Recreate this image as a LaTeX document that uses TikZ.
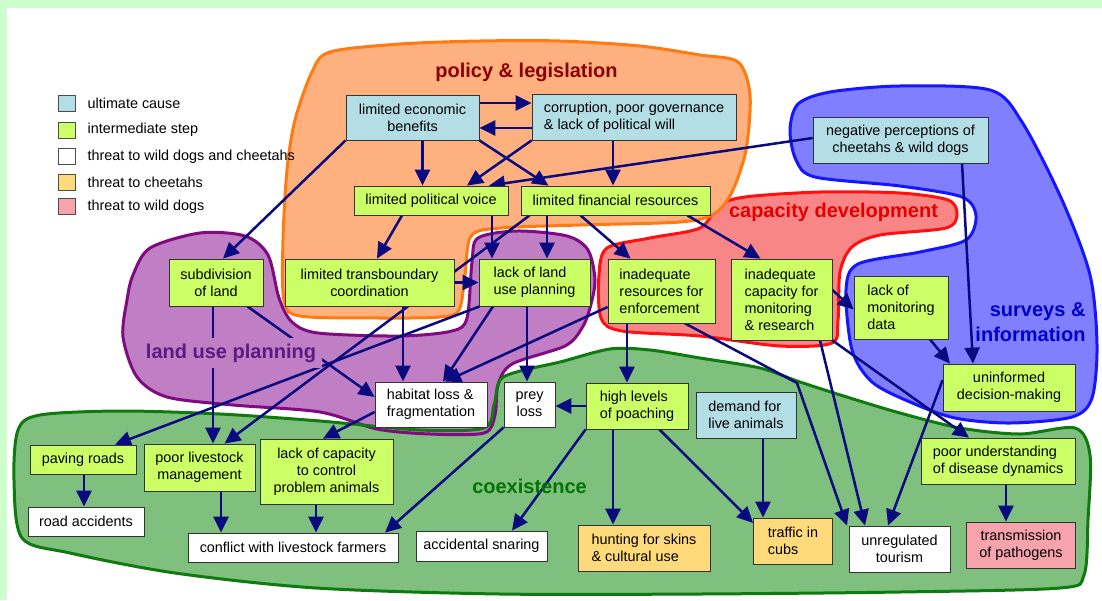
\documentclass[tikz,border=0pt]{standalone}
\usepackage{fontspec}
\setmainfont{Liberation Sans}
\usepackage{tikz}
\usetikzlibrary{arrows.meta,calc,positioning}

\pgfdeclarelayer{blobs}
\pgfdeclarelayer{links}
\pgfsetlayers{blobs,links,main}

\definecolor{framegreen}{HTML}{CCFFCC}
\definecolor{causeblue}{HTML}{B4DEE6}
\definecolor{midgreen}{HTML}{CCFF66}
\definecolor{cheetahyellow}{HTML}{FFDA7A}
\definecolor{dogpink}{HTML}{F7A3AE}
\definecolor{linknavy}{HTML}{0A0A80}
\definecolor{orangefill}{HTML}{FFB07F}
\definecolor{orangeline}{HTML}{FF7A10}
\definecolor{redfill}{HTML}{F98686}
\definecolor{redline}{HTML}{FF1010}
\definecolor{bluefill}{HTML}{7F7FFF}
\definecolor{blueline}{HTML}{1515FF}
\definecolor{purplefill}{HTML}{C07FC4}
\definecolor{purpleline}{HTML}{800A80}
\definecolor{greenfill}{HTML}{7FC07F}
\definecolor{greenline}{HTML}{0F7A0F}
\definecolor{landusetext}{HTML}{5B1A82}

\newcommand{\boxfont}{\fontsize{14.4}{17}\selectfont}
\newcommand{\zonefont}{\fontsize{20}{25}\selectfont\bfseries}

\begin{document}
\begin{tikzpicture}[x=1pt,y=-1pt,>={Triangle[length=16pt,width=15pt]},
    box/.style={draw=black!80, line width=0.8pt, font=\boxfont, align=center, inner xsep=6pt, inner ysep=4pt},
    cause/.style={box, fill=causeblue},
    midbox/.style={box, fill=midgreen},
    bothbox/.style={box, fill=white},
    cheetahbox/.style={box, fill=cheetahyellow},
    dogbox/.style={box, fill=dogpink},
    link/.style={->, draw=linknavy, line width=2.5pt},
    zone/.style={font=\zonefont},
    legbox/.style={draw=black!70, line width=0.8pt, minimum width=17pt, minimum height=16pt, inner sep=0pt},
    legtext/.style={font=\boxfont, inner sep=0pt, anchor=west}]
    \useasboundingbox (0,0) rectangle (1102,600);

    % zones
    \begin{pgfonlayer}{blobs}
        \fill[framegreen] (0,0) rectangle (1102,600);
        \fill[white] (7,8) rectangle (1102,600);
        \path[save path=\coexpath] plot[smooth cycle] coordinates {(18,430) (40,415) (120,411) (220,414) (320,421) (420,430) (484,428) (494,405) (500,380) (520,371) (560,362) (610,349) (650,350) (700,358) (760,368) (800,382) (850,398) (900,413) (960,428) (1020,434) (1075,428) (1090,455) (1088,520) (1084,575) (1060,588) (900,592) (700,594) (500,594) (316,588) (175,573) (70,553) (22,538) (14,480)};
        \fill[greenfill, use path=\coexpath];
        \draw[purpleline, fill=purplefill, line width=3pt] plot[smooth cycle] coordinates {(150,248) (200,233) (245,236) (268,255) (279,298) (292,322) (318,333) (400,336) (452,331) (467,318) (472,262) (478,238) (517,231) (567,236) (588,250) (595,280) (590,308) (582,328) (565,346) (512,364) (498,385) (495,415) (484,433) (430,434) (377,429) (320,412) (233,405) (167,397) (137,377) (123,337) (127,300) (133,275)};
        \draw[greenline, line width=3pt, use path=\coexpath];
        \draw[redline, fill=redfill, line width=3pt] plot[smooth cycle] coordinates {(718,206) (745,197) (820,192) (900,193) (948,200) (957,214) (946,228) (880,235) (852,247) (840,272) (838,320) (832,343) (780,346) (700,336) (622,331) (601,318) (599,275) (607,248) (650,238) (700,228)};
        \draw[orangeline, fill=orangefill, line width=3pt] plot[smooth cycle] coordinates {(312,72) (330,52) (400,44) (480,41) (560,41) (640,46) (700,55) (738,62) (750,95) (746,150) (732,192) (714,214) (680,222) (580,225) (500,228) (471,236) (465,275) (459,310) (440,317) (380,318) (300,316) (284,300) (283,240) (287,170) (295,120)};
        \draw[blueline, fill=bluefill, line width=3pt] plot[smooth cycle] coordinates {(790,130) (798,104) (830,92) (900,86) (990,90) (1022,122) (1062,200) (1090,275) (1097,345) (1092,398) (1072,417) (1010,423) (955,418) (910,402) (872,382) (852,350) (846,290) (858,264) (920,252) (966,240) (976,216) (962,197) (900,186) (815,177) (796,160)};
    \end{pgfonlayer}

    \node[zone, text=red!55!black] (policy) at (526.5,72) {policy \& legislation};
    \node[zone, text=red!90!black] (capdev) at (833.5,212) {capacity development};
    \node[zone, text=blue!80!black, align=right, anchor=east] (surveys) at (1089,322.5) {surveys \&\\information};
    \node[zone, text=landusetext, fill=purplefill, inner sep=6pt] (landuse) at (231,353) {land use planning};
    \node[zone, text=green!45!black] (coexist) at (529.5,486) {coexistence};

    % legend
    \node[legbox, fill=causeblue] (legcause) at (66.5,103) {};
    \node[legbox, fill=midgreen] (legmid) at (66.5,130) {};
    \node[legbox, fill=white] (legboth) at (66.5,156.5) {};
    \node[legbox, fill=cheetahyellow] (legcheetah) at (66.5,182.5) {};
    \node[legbox, fill=dogpink] (legdog) at (66.5,206.5) {};
    \node[legtext, right=12pt of legcause] {ultimate cause};
    \node[legtext, right=12pt of legmid] {intermediate step};
    \node[legtext, right=12pt of legboth] {threat to wild dogs and cheetahs};
    \node[legtext, right=12pt of legcheetah] {threat to cheetahs};
    \node[legtext, right=12pt of legdog] {threat to wild dogs};

    % boxes
    \node[cause, minimum width=133pt, minimum height=45pt] (econ) at (412.5,117.5) {limited economic\\benefits};
    \node[cause, align=left, minimum width=204pt, minimum height=46pt] (corrupt) at (634,117) {corruption, poor governance\\\& lack of political will};
    \node[cause, minimum width=175pt, minimum height=46pt] (negper) at (900.5,140) {negative perceptions of\\cheetahs \& wild dogs};
    \node[midbox, minimum width=154pt, minimum height=29pt] (voice) at (431,200.5) {limited political voice};
    \node[midbox, minimum width=189pt, minimum height=29pt] (finance) at (615.5,200.5) {limited financial resources};
    \node[midbox, minimum width=94pt, minimum height=47pt] (subdiv) at (216,282.5) {subdivision\\of land};
    \node[midbox, minimum width=169pt, minimum height=47pt] (transb) at (369.5,282.5) {limited transboundary\\coordination};
    \node[midbox, align=left, minimum width=111pt, minimum height=47pt] (landplan) at (534.5,282.5) {lack of land\\use planning};
    \node[midbox, align=left, minimum width=107pt, minimum height=64pt] (enforce) at (661.5,291) {inadequate\\resources for\\enforcement};
    \node[midbox, align=left, minimum width=101pt, minimum height=81pt] (capmon) at (781.5,299.5) {inadequate\\capacity for\\monitoring\\\& research};
    \node[midbox, align=left, minimum width=94pt, minimum height=63pt] (mondata) at (901,307.5) {lack of\\monitoring\\data};
    \node[midbox, minimum width=132pt, minimum height=47pt] (uninf) at (1009,387.5) {uninformed\\decision-making};
    \node[bothbox, align=left, minimum width=112pt, minimum height=45pt] (habitat) at (431,404.5) {habitat loss \&\\fragmentation};
    \node[bothbox, minimum width=51pt, minimum height=45pt] (prey) at (529.5,404.5) {prey\\loss};
    \node[midbox, align=left, minimum width=102pt, minimum height=46pt] (poaching) at (637,406) {high levels\\of poaching};
    \node[cause, align=left, minimum width=100pt, minimum height=46pt] (demand) at (746,415) {demand for\\live animals};
    \node[midbox, minimum width=106pt, minimum height=29pt] (paving) at (83,459.5) {paving roads};
    \node[midbox, minimum width=111pt, minimum height=47pt] (poorlive) at (199.5,467.5) {poor livestock\\management};
    \node[midbox, minimum width=133pt, minimum height=65pt] (lackctrl) at (326.5,471.5) {lack of capacity\\to control\\problem animals};
    \node[midbox, align=left, minimum width=154pt, minimum height=46pt] (poorund) at (998,461) {poor understanding\\of disease dynamics};
    \node[bothbox, minimum width=116pt, minimum height=29pt] (roadacc) at (86,521.5) {road accidents};
    \node[bothbox, minimum width=210pt, minimum height=29pt] (conflict) at (293,547.5) {conflict with livestock farmers};
    \node[bothbox, minimum width=131pt, minimum height=30pt] (snaring) at (481.5,546) {accidental snaring};
    \node[cheetahbox, align=left, minimum width=132pt, minimum height=46pt] (hunting) at (644,548) {hunting for skins\\\& cultural use};
    \node[cheetahbox, align=left, minimum width=79pt, minimum height=46pt] (traffic) at (793,541) {traffic in\\cubs};
    \node[bothbox, minimum width=101pt, minimum height=46pt] (tourism) at (899.5,549) {unregulated\\tourism};
    \node[dogbox, minimum width=109pt, minimum height=46pt] (transm) at (1021,545) {transmission\\of pathogens};

    % links
    \begin{pgfonlayer}{links}
        \draw[link] ($(econ.east)+(0,-14.5)$) -- ($(corrupt.west)+(0,-14)$);
        \draw[link] ($(corrupt.west)+(0,11)$) -- ($(econ.east)+(0,10.5)$);
        \draw[link] ($(econ.south)+(10,0)$) -- ($(voice.north)+(-8.5,0)$);
        \draw[link] (econ.south east) -- ($(finance.north)+(-67,0)$);
        \draw[link] (corrupt.south west) -- ($(voice.north)+(36,0)$);
        \draw[link] ($(corrupt.south)+(-21,0)$) -- ($(finance.north)+(-2.5,0)$);
        \draw[link] ($(negper.west)+(0,-2)$) -- ($(voice.north)+(58,0)$);
        \draw[link] (econ.south west) -- ($(subdiv.north)+(7,0)$);
        \draw[link] ($(voice.south)+(-29,0)$) -- ($(transb.north)+(7.5,0)$);
        \draw[link] ($(voice.south)+(61,0)$) -- ($(landplan.north)+(-42.5,0)$);
        \draw[link] ($(finance.south)+(-68.5,0)$) -- ($(landplan.north)+(12.5,0)$);
        \draw[link] ($(finance.south west)+(9,0)$) -- ($(poorlive.north)+(25,0)$);
        \draw[link] ($(finance.south)+(-35,0)$) -- ($(enforce.north)+(-31,0)$);
        \draw[link] ($(finance.south east)+(-23,0)$) -- ($(capmon.north)+(-21,0)$);
        \draw[link] (transb.east) -- (landplan.west);
        \draw[link] ($(transb.south)+(33.5,0)$) -- ($(habitat.north)+(-28,0)$);
        \draw[link] ($(subdiv.south)+(-3,0)$) -- ($(poorlive.north)+(13.5,0)$);
        \draw[link] ($(subdiv.south east)+(-16,0)$) -- ($(habitat.west)+(0,-7.5)$);
        \draw[link] ($(landplan.south west)+(1,0)$) -- ($(paving.north)+(32,0)$);
        \draw[link] ($(landplan.south)+(-41.5,0)$) -- ($(habitat.north)+(12,0)$);
        \draw[link] ($(landplan.south)+(-7.5,0)$) -- ($(prey.north)+(-2.5,0)$);
        \draw[link] ($(enforce.west)+(0,16)$) -- ($(habitat.north)+(14,0)$);
        \draw[link] ($(enforce.south)+(-34.5,0)$) -- ($(poaching.north)+(-10,0)$);
        \draw[link] ($(enforce.south)+(23.5,0)$) -- (797,383) -- ($(tourism.north)+(-52.5,0)$);
        \draw[link] ($(capmon.south)+(38.5,0)$) -- ($(tourism.north)+(-34.5,0)$);
        \draw[link] (capmon.south east) -- ($(poorund.north)+(-29,0)$);
        \draw[link] ($(capmon.east)+(0,-9.5)$) -- ($(mondata.west)+(0,2)$);
        \draw[link] ($(mondata.south)+(29,0)$) -- ($(uninf.north)+(-59,0)$);
        \draw[link] ($(negper.south)+(61.5,0)$) -- ($(uninf.north)+(-36,0)$);
        \draw[link] ($(uninf.west)+(0,-7.5)$) -- ($(tourism.north)+(-11.5,0)$);
        \draw[link] ($(poorund.south)+(8,0)$) -- ($(transm.north)+(-15,0)$);
        \draw[link] (poaching.west) -- ($(prey.east)+(0,1.5)$);
        \draw[link] ($(poaching.south)+(-24,0)$) -- ($(hunting.north)+(-31,0)$);
        \draw[link] ($(poaching.south east)+(-29,0)$) -- ($(traffic.west)+(0,-18)$);
        \draw[link] (poaching.south west) -- ($(snaring.north)+(30.5,0)$);
        \draw[link] ($(demand.south)+(17,0)$) -- ($(traffic.north)+(-30,0)$);
        \draw[link] (prey.south west) -- ($(conflict.north)+(92,0)$);
        \draw[link] ($(poorlive.south)+(21.5,0)$) -- ($(conflict.north)+(-72,0)$);
        \draw[link] ($(lackctrl.south)+(-10.5,0)$) -- ($(conflict.north)+(23,0)$);
        \draw[link] ($(paving.south)+(1,0)$) -- ($(roadacc.north)+(-2,0)$);
        \draw[link] ($(habitat.west)+(0,7.5)$) -- ($(lackctrl.north)+(-3.5,0)$);
    \end{pgfonlayer}
\end{tikzpicture}
\end{document}
